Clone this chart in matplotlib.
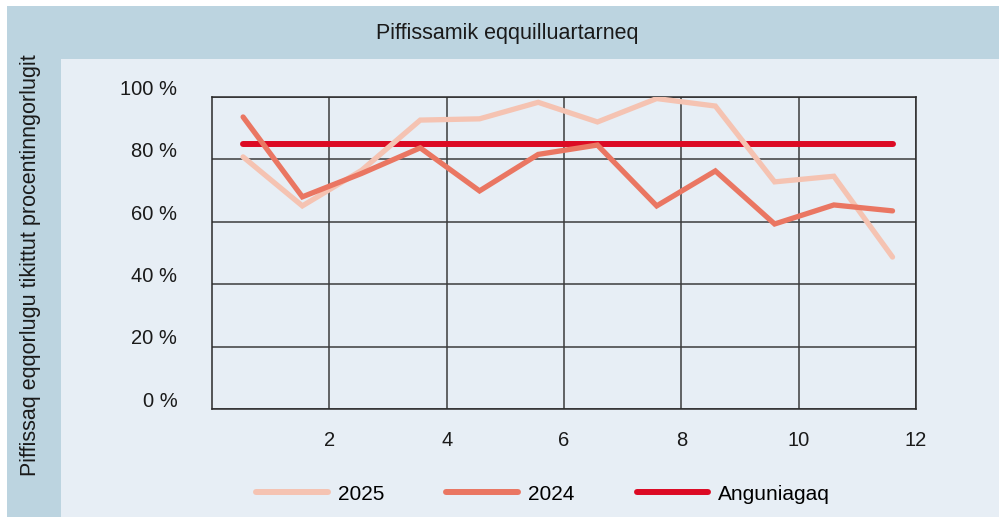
import numpy as np
import matplotlib
matplotlib.use("Agg")
import matplotlib.pyplot as plt
from matplotlib.patches import Rectangle
from matplotlib.transforms import ScaledTranslation

plt.rcParams['font.family'] = ['Liberation Sans', 'DejaVu Sans']

# Data
x_pos = [0.53, 1.54, 2.55, 3.55, 4.56, 5.56, 6.57, 7.58, 8.58, 9.59, 10.6, 11.6]
v2025 = [80.8, 65.1, 76.5, 92.6, 93.0, 98.3, 92.0, 99.5, 97.1, 72.8, 74.6, 48.7]
v2024 = [93.6, 68.0, 75.5, 83.7, 69.9, 81.6, 84.6, 65.1, 76.3, 59.3, 65.4, 63.5]
maal = [85] * 12
xticks = [2, 4, 6, 8, 10, 12]
yticks = [0, 20, 40, 60, 80, 100]

W, H = 999, 517
fig = plt.figure(figsize=(W / 100, H / 100), dpi=100)
fig.patch.set_facecolor('white')

band = '#bcd4e0'
light = '#e7eef5'
def px(x0, y0, x1, y1, c):
    fig.add_artist(Rectangle((x0 / W, 1 - y1 / H), (x1 - x0) / W, (y1 - y0) / H,
                             transform=fig.transFigure, facecolor=c, edgecolor='none', zorder=0))
px(7, 6, W, 59, band)
px(7, 59, 61, H, band)
px(61, 59, W, H, light)

ax = fig.add_axes([212 / W, 1 - 409 / H, (916 - 212) / W, (409 - 97) / H])
ax.set_facecolor(light)

ax.plot(x_pos, v2025, color='#f5c3b2', lw=3.8, solid_capstyle='round', solid_joinstyle='miter', label='2025', zorder=3)
ax.plot(x_pos, v2024, color='#ea7662', lw=3.8, solid_capstyle='round', solid_joinstyle='miter', label='2024', zorder=4)
ax.plot(x_pos, maal, color='#dc0a24', lw=4.3, solid_capstyle='round', label='Anguniagaq', zorder=2)

ax.set_xlim(0, 12)
ax.set_ylim(0, 100)
ax.set_xticks(xticks)
ax.set_yticks(yticks)
ax.set_yticklabels([f'{v} %' for v in yticks])
ax.tick_params(axis='both', length=0, labelsize=14.5, colors='#1a1a1a')
ax.tick_params(axis='y', pad=25)
ax.tick_params(axis='x', pad=16)
for lab in ax.get_yticklabels():
    lab.set_transform(lab.get_transform() + ScaledTranslation(0, 7 / 72, fig.dpi_scale_trans))

ax.grid(True, color='#3c3c3c', lw=1.1, zorder=1)
ax.set_axisbelow(True)
for s in ax.spines.values():
    s.set_color('#2a2a2a')
    s.set_linewidth(1.1)

fig.text(507 / W, 1 - 33 / H, 'Piffissamik eqquilluartarneq', ha='center', va='center', fontsize=15.5, color='#1a1a1a')
fig.text(31 / W, 1 - 265 / H, 'Piffissaq eqqorlugu tikittut procentinngorlugit', ha='center', va='center',
         rotation=90, fontsize=15.5, color='#1a1a1a')

leg = fig.legend(loc='center', bbox_to_anchor=(543 / W, 1 - 494 / H), ncol=3, frameon=False,
                 fontsize=15, handlelength=3.45, handletextpad=0.45, columnspacing=3.0)
for line in leg.get_lines():
    line.set_linewidth(4.3)

fig.savefig('out.png', dpi=100, facecolor=fig.get_facecolor())
